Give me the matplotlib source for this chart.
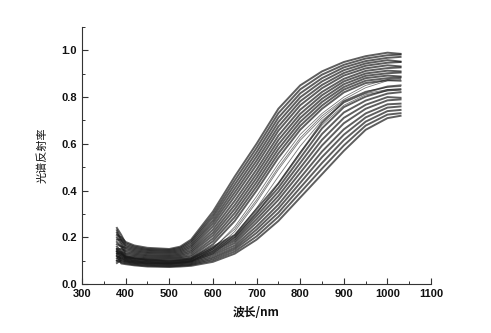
import matplotlib
matplotlib.use('Agg')
import matplotlib.pyplot as plt
from matplotlib.ticker import MultipleLocator

# sampled wavelengths (nm)
wavelengths = [380, 390, 400, 420, 450, 500, 525, 550, 600, 650, 700, 750, 800, 850, 900, 950, 1000, 1030]

# upper group: high NIR reflectance
upper_curves = [
    [0.21, 0.20, 0.180, 0.165, 0.155, 0.150, 0.160, 0.190, 0.310, 0.460, 0.600, 0.750, 0.850, 0.910, 0.950, 0.975, 0.990, 0.985],
    [0.24, 0.21, 0.174, 0.160, 0.150, 0.146, 0.155, 0.183, 0.297, 0.443, 0.582, 0.731, 0.833, 0.896, 0.938, 0.965, 0.979, 0.982],
    [0.19, 0.19, 0.167, 0.155, 0.146, 0.142, 0.150, 0.176, 0.285, 0.426, 0.564, 0.712, 0.816, 0.881, 0.927, 0.954, 0.968, 0.972],
    [0.23, 0.19, 0.161, 0.150, 0.142, 0.138, 0.145, 0.168, 0.272, 0.409, 0.546, 0.693, 0.799, 0.867, 0.915, 0.944, 0.958, 0.952],
    [0.17, 0.16, 0.155, 0.145, 0.137, 0.134, 0.140, 0.161, 0.260, 0.392, 0.528, 0.674, 0.782, 0.852, 0.903, 0.934, 0.947, 0.950],
    [0.22, 0.18, 0.149, 0.140, 0.133, 0.130, 0.135, 0.154, 0.247, 0.375, 0.510, 0.656, 0.765, 0.838, 0.892, 0.923, 0.936, 0.931],
    [0.15, 0.15, 0.142, 0.135, 0.128, 0.125, 0.130, 0.146, 0.233, 0.356, 0.490, 0.635, 0.746, 0.822, 0.878, 0.912, 0.924, 0.927],
    [0.20, 0.17, 0.135, 0.130, 0.123, 0.121, 0.125, 0.139, 0.220, 0.338, 0.472, 0.616, 0.728, 0.808, 0.867, 0.901, 0.913, 0.910],
    [0.14, 0.14, 0.129, 0.125, 0.119, 0.117, 0.120, 0.132, 0.208, 0.321, 0.454, 0.597, 0.711, 0.793, 0.855, 0.891, 0.902, 0.905],
    [0.18, 0.16, 0.123, 0.120, 0.114, 0.113, 0.115, 0.124, 0.195, 0.304, 0.436, 0.578, 0.694, 0.779, 0.843, 0.881, 0.892, 0.888],
    [0.13, 0.13, 0.116, 0.115, 0.110, 0.109, 0.111, 0.117, 0.183, 0.287, 0.418, 0.559, 0.677, 0.764, 0.832, 0.870, 0.881, 0.884],
    [0.16, 0.14, 0.110, 0.110, 0.105, 0.105, 0.106, 0.110, 0.170, 0.270, 0.400, 0.540, 0.660, 0.750, 0.820, 0.860, 0.872, 0.870],
]

# a few curves in between the two groups
middle_curves = [
    [0.12, 0.11, 0.100, 0.095, 0.090, 0.088, 0.090, 0.095, 0.150, 0.245, 0.375, 0.515, 0.640, 0.730, 0.800, 0.850, 0.875, 0.880],
    [0.14, 0.12, 0.105, 0.100, 0.095, 0.093, 0.095, 0.100, 0.140, 0.225, 0.350, 0.490, 0.615, 0.710, 0.785, 0.825, 0.842, 0.845],
    [0.13, 0.115, 0.100, 0.095, 0.090, 0.090, 0.093, 0.098, 0.135, 0.210, 0.325, 0.460, 0.590, 0.700, 0.775, 0.815, 0.832, 0.835],
    [0.11, 0.10, 0.095, 0.090, 0.088, 0.087, 0.090, 0.095, 0.130, 0.200, 0.300, 0.430, 0.565, 0.680, 0.765, 0.810, 0.826, 0.830],
    [0.15, 0.13, 0.115, 0.110, 0.100, 0.100, 0.101, 0.105, 0.155, 0.235, 0.360, 0.500, 0.625, 0.720, 0.790, 0.840, 0.870, 0.875],
]

# lower group: lower NIR reflectance
lower_curves = [
    [0.13, 0.135, 0.120, 0.110, 0.105, 0.100, 0.103, 0.110, 0.160, 0.210, 0.320, 0.430, 0.560, 0.690, 0.780, 0.820, 0.845, 0.850],
    [0.15, 0.130, 0.116, 0.107, 0.102, 0.097, 0.100, 0.106, 0.153, 0.201, 0.306, 0.412, 0.539, 0.666, 0.757, 0.802, 0.830, 0.833],
    [0.11, 0.125, 0.112, 0.103, 0.098, 0.094, 0.097, 0.103, 0.146, 0.192, 0.291, 0.395, 0.518, 0.642, 0.734, 0.785, 0.815, 0.821],
    [0.14, 0.120, 0.108, 0.100, 0.095, 0.091, 0.094, 0.099, 0.139, 0.184, 0.277, 0.377, 0.497, 0.617, 0.711, 0.767, 0.800, 0.797],
    [0.10, 0.114, 0.105, 0.097, 0.092, 0.088, 0.091, 0.096, 0.131, 0.175, 0.263, 0.360, 0.476, 0.593, 0.688, 0.750, 0.786, 0.790],
    [0.12, 0.109, 0.100, 0.093, 0.088, 0.085, 0.088, 0.092, 0.124, 0.165, 0.247, 0.340, 0.454, 0.567, 0.662, 0.730, 0.769, 0.772],
    [0.09, 0.104, 0.097, 0.090, 0.085, 0.082, 0.085, 0.089, 0.116, 0.156, 0.233, 0.323, 0.433, 0.543, 0.639, 0.713, 0.755, 0.760],
    [0.14, 0.098, 0.093, 0.087, 0.082, 0.079, 0.081, 0.085, 0.109, 0.148, 0.219, 0.305, 0.412, 0.518, 0.616, 0.695, 0.740, 0.745],
    [0.10, 0.093, 0.089, 0.083, 0.078, 0.076, 0.078, 0.082, 0.102, 0.139, 0.204, 0.288, 0.391, 0.494, 0.593, 0.678, 0.725, 0.731],
    [0.12, 0.088, 0.085, 0.080, 0.075, 0.073, 0.075, 0.078, 0.095, 0.130, 0.190, 0.270, 0.370, 0.470, 0.570, 0.660, 0.710, 0.720],
]

LINE_COLOR = '#1a1a1a'
TEXT_COLOR = '#111111'

plt.rcParams['font.family'] = ['Liberation Sans', 'Noto Sans CJK SC']

fig = plt.figure(figsize=(4.91, 3.33), dpi=100)
ax = fig.add_axes([0.167, 0.147, 0.711, 0.772])

for curve in upper_curves + lower_curves:
    ax.plot(wavelengths, curve, color=LINE_COLOR, linewidth=1.4, alpha=0.7)
for curve in middle_curves:
    ax.plot(wavelengths, curve, color=LINE_COLOR, linewidth=0.6, alpha=0.6)

ax.set_xlim(300, 1100)
ax.set_ylim(0, 1.1)
ax.xaxis.set_major_locator(MultipleLocator(100))
ax.xaxis.set_minor_locator(MultipleLocator(50))
ax.yaxis.set_major_locator(MultipleLocator(0.2))
ax.yaxis.set_minor_locator(MultipleLocator(0.1))
ax.yaxis.set_major_formatter(plt.FuncFormatter(lambda v, p: f'{v:.1f}'))

ax.spines['top'].set_visible(False)
ax.spines['right'].set_visible(False)
ax.spines['left'].set_color('#333333')
ax.spines['bottom'].set_color('#333333')
ax.tick_params(which='major', direction='in', length=4, width=0.8, colors='#333333',
               labelsize=8, labelcolor=TEXT_COLOR)
ax.tick_params(which='minor', direction='in', length=2.5, width=0.7, colors='#333333')
for lab in ax.get_xticklabels() + ax.get_yticklabels():
    lab.set_fontweight('bold')

ax.set_xlabel('波长/nm', fontsize=8.5, fontweight='bold', color=TEXT_COLOR,
              family=['Noto Sans CJK SC', 'DejaVu Sans'], labelpad=5)
ax.set_ylabel('光谱反射率', fontsize=8, color=TEXT_COLOR,
              family=['Noto Sans CJK SC', 'DejaVu Sans'], labelpad=10)

fig.savefig('out.png', dpi=100, facecolor='white')
